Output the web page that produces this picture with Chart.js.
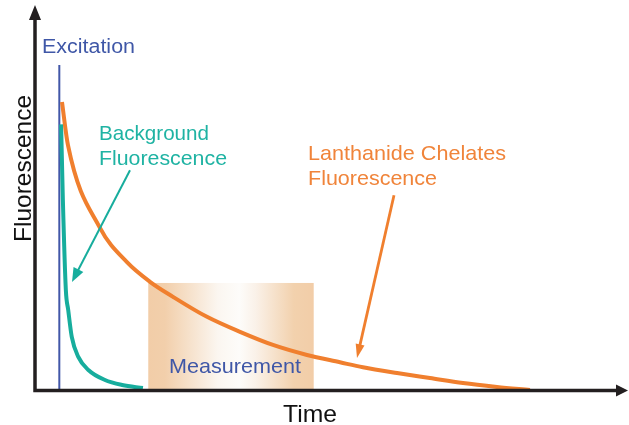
<!DOCTYPE html>
<html>
<head>
<meta charset="utf-8">
<script src="https://cdn.jsdelivr.net/npm/chart.js@4"></script>
<style>
html,body{margin:0;padding:0;background:#fff;}
#wrap{width:629px;height:425px;}
</style>
</head>
<body>
<div id="wrap"><canvas id="c" width="629" height="425"></canvas></div>
<script>
// ---- data (arbitrary time units vs. relative fluorescence) ----
const lanthanideTime = [45.5, 55.6, 109.6, 155.1, 193.9, 232.7, 290, 345.7, 401.3, 458.7, 514.3, 553, 610.5, 666, 721.8, 779, 834.7];
const lanthanideVals = [74.8, 63.6, 42.1, 33.2, 28.1, 24.2, 19.0, 15.1, 11.7, 9.1, 7.2, 5.9, 4.4, 3.1, 1.8, 0.8, 0];
const backgroundTime = [44, 47, 52, 56, 62, 73, 90, 118, 147, 182];
const backgroundVals = [69, 49.4, 26, 20.8, 13.8, 8.6, 5.2, 2.6, 1.3, 0.5];
const excitationTime = [41, 41];
const excitationVals = [0, 84.4];
const measurementWindow = [191, 470];
const measurementHeight = 27.8;
const axisTitles = {x: 'Time', y: 'Fluorescence'};

const ORANGE = '#f07f2e', TEAL = '#17ad9d', BLUE = '#4257a8';
const toPts = (xs, ys) => xs.map((x, i) => ({x, y: ys[i]}));

function txt(ctx, s, px, py, size, color, w) {
  ctx.save();
  ctx.font = size + 'px "Liberation Sans", Arial, sans-serif';
  ctx.fillStyle = color;
  ctx.textBaseline = 'alphabetic';
  const m = ctx.measureText(s).width;
  ctx.translate(px, py);
  ctx.scale(w / m, 1);
  ctx.fillText(s, 0, 0);
  ctx.restore();
}
function arrow(ctx, x1, y1, x2, y2, color, lw, hl, hw) {
  const a = Math.atan2(y2 - y1, x2 - x1);
  ctx.save();
  ctx.strokeStyle = color; ctx.fillStyle = color; ctx.lineWidth = lw;
  ctx.beginPath();
  ctx.moveTo(x1, y1);
  ctx.lineTo(x2 - Math.cos(a) * hl * 0.8, y2 - Math.sin(a) * hl * 0.8);
  ctx.stroke();
  ctx.beginPath();
  ctx.moveTo(x2, y2);
  ctx.lineTo(x2 - Math.cos(a) * hl + Math.sin(a) * hw, y2 - Math.sin(a) * hl - Math.cos(a) * hw);
  ctx.lineTo(x2 - Math.cos(a) * hl - Math.sin(a) * hw, y2 - Math.sin(a) * hl + Math.cos(a) * hw);
  ctx.closePath();
  ctx.fill();
  ctx.restore();
}

const overlay = {
  id: 'overlay',
  beforeDatasetsDraw(chart) {
    const {ctx, scales: {x, y}} = chart;
    const x0 = x.getPixelForValue(measurementWindow[0]);
    const x1 = x.getPixelForValue(measurementWindow[1]);
    const yt = y.getPixelForValue(measurementHeight);
    const yb = y.getPixelForValue(0);
    const g = ctx.createLinearGradient(x0, 0, x1, 0);
    g.addColorStop(0, '#f2cda8');
    g.addColorStop(0.1, '#f2cfab');
    g.addColorStop(0.42, '#fbf6f0');
    g.addColorStop(0.55, '#fdfcfa');
    g.addColorStop(0.65, '#faf1e8');
    g.addColorStop(0.88, '#f2d1ad');
    g.addColorStop(1, '#f2cda8');
    ctx.save();
    ctx.fillStyle = g;
    ctx.fillRect(x0, yt, x1 - x0, yb - yt);
    ctx.restore();
  },
  afterDatasetsDraw(chart) {
    const {ctx, scales: {x, y}} = chart;
    const P = (vx, vy) => [x.getPixelForValue(vx), y.getPixelForValue(vy)];
    const ax = x.getPixelForValue(0), ay = y.getPixelForValue(0) + 0.5;
    const yTop = y.getPixelForValue(100), xEnd = x.getPixelForValue(1000);
    // axes
    ctx.save();
    ctx.strokeStyle = '#231f20'; ctx.fillStyle = '#231f20'; ctx.lineWidth = 3.5;
    ctx.beginPath();
    ctx.moveTo(ax, ay + 1.75); ctx.lineTo(ax, yTop + 12);
    ctx.moveTo(ax - 1.75, ay); ctx.lineTo(xEnd - 10, ay);
    ctx.stroke();
    ctx.beginPath();
    ctx.moveTo(ax, yTop); ctx.lineTo(ax - 6, yTop + 15); ctx.lineTo(ax + 6, yTop + 15); ctx.closePath(); ctx.fill();
    ctx.beginPath();
    ctx.moveTo(xEnd, ay); ctx.lineTo(xEnd - 12, ay - 6); ctx.lineTo(xEnd - 12, ay + 6); ctx.closePath(); ctx.fill();
    ctx.restore();
    // pointer arrows
    const t1 = P(160.2, 57.1), t2 = P(62.4, 28.05);
    arrow(ctx, t1[0], t1[1], t2[0], t2[1], TEAL, 2, 14, 5.5);
    const o1 = P(605.4, 50.6), o2 = P(543, 8.3);
    arrow(ctx, o1[0], o1[1], o2[0], o2[1], ORANGE, 2.8, 14, 4.5);
    // labels
    txt(ctx, 'Excitation', 42, 53, 20, '#3f57a7', 93);
    txt(ctx, 'Background', 99, 140, 21, '#1fb3a3', 110);
    txt(ctx, 'Fluorescence', 99, 165, 21, '#1fb3a3', 128);
    txt(ctx, 'Lanthanide Chelates', 308, 160, 21, '#f0843a', 198);
    txt(ctx, 'Fluorescence', 308, 185, 21, '#f0843a', 129);
    txt(ctx, 'Measurement', 169, 373, 21, '#3f57a7', 132);
    txt(ctx, axisTitles.x, 283, 422, 24, '#111', 54);
    ctx.save();
    ctx.translate(31, 242);
    ctx.rotate(-Math.PI / 2);
    txt(ctx, axisTitles.y, 0, 0, 24, '#111', 147);
    ctx.restore();
  }
};

new Chart(document.getElementById('c'), {
  type: 'line',
  data: {
    datasets: [
      {label: 'Excitation', data: toPts(excitationTime, excitationVals), borderColor: BLUE, borderWidth: 2, pointRadius: 0, clip: false, order: 3},
      {label: 'Background Fluorescence', data: toPts(backgroundTime, backgroundVals), borderColor: TEAL, borderWidth: 4, pointRadius: 0, cubicInterpolationMode: 'monotone', clip: false, order: 2},
      {label: 'Lanthanide Chelates Fluorescence', data: toPts(lanthanideTime, lanthanideVals), borderColor: ORANGE, borderWidth: 4, pointRadius: 0, cubicInterpolationMode: 'monotone', clip: false, order: 1}
    ]
  },
  options: {
    responsive: false,
    animation: false,
    layout: {padding: {left: 35, right: 1, top: 5, bottom: 35}},
    plugins: {legend: {display: false}, tooltip: {enabled: false}},
    scales: {
      x: {type: 'linear', min: 0, max: 1000, display: false},
      y: {type: 'linear', min: 0, max: 100, display: false}
    }
  },
  plugins: [overlay]
});
</script>
</body>
</html>
